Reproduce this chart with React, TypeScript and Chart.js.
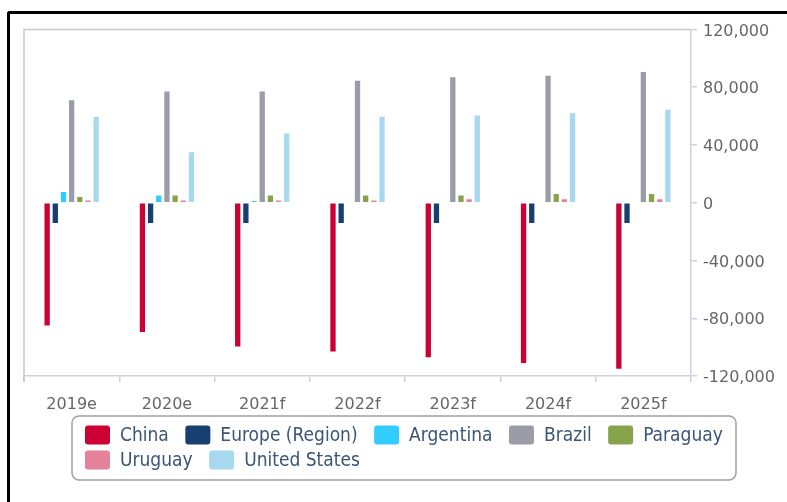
import React, { useEffect, useRef } from "react";
import { Chart, registerables } from "chart.js";

Chart.register(...registerables);

// ---- data ----
const categories = ["2019e", "2020e", "2021f", "2022f", "2023f", "2024f", "2025f"];
const seriesNames = ["China", "Europe (Region)", "Argentina", "Brazil", "Paraguay", "Uruguay", "United States"];
const china = [-85000, -89500, -99500, -103000, -107000, -111000, -115000];
const europe = [-14000, -14000, -14000, -14000, -14000, -14000, -14000];
const argentina = [7500, 5000, 1200, 0, 0, 0, 0];
const brazil = [71000, 77000, 77000, 84500, 87000, 88000, 90500];
const paraguay = [4000, 5000, 5000, 5000, 5000, 6000, 6000];
const uruguay = [1500, 1500, 1500, 1500, 2500, 2500, 2500];
const unitedStates = [59500, 35000, 48000, 59500, 60500, 62000, 64500];
const yMin = -120000;
const yMax = 120000;
const yStep = 40000;

const seriesValues = [china, europe, argentina, brazil, paraguay, uruguay, unitedStates];
const seriesColors = ["#CC0033", "#173F72", "#33CCFF", "#9A9CA7", "#87A44A", "#E5829B", "#A6D9EF"];

const AXIS_COLOR = "#C6D4E4";
const TICK_COLOR = "#666666";
const LEGEND_TEXT = "#3B5577";

const decorPlugin = {
  id: "decor",
  beforeDatasetsDraw(chart: any) {
    const { ctx, chartArea } = chart;
    ctx.save();
    ctx.strokeStyle = "#C8C8C8";
    ctx.lineWidth = 1.5;
    ctx.beginPath();
    ctx.moveTo(chartArea.left, chartArea.bottom + 6);
    ctx.lineTo(chartArea.left, chartArea.top);
    ctx.lineTo(chartArea.right, chartArea.top);
    ctx.stroke();
    ctx.restore();
  },
  afterDraw(chart: any) {
    const { ctx } = chart;
    const box = { x: 72, y: 416, w: 664, h: 64, r: 7 };
    ctx.save();
    ctx.strokeStyle = "#A0A0A0";
    ctx.lineWidth = 1.5;
    ctx.beginPath();
    ctx.roundRect(box.x, box.y, box.w, box.h, box.r);
    ctx.stroke();

    const font = '19px "DejaVu Sans Condensed", "DejaVu Sans"';
    ctx.font = font;
    ctx.textBaseline = "middle";
    ctx.textAlign = "left";
    const sw = 25;
    const sh = 19;
    const gapText = 10;
    const gapItem = 16.5;
    const startX = 85;
    const rowY = [435, 460];
    let x = startX;
    let row = 0;
    chart.data.datasets.forEach((ds: any) => {
      const tw = ctx.measureText(ds.label).width;
      const iw = sw + gapText + tw;
      if (x > startX && x + iw > box.x + box.w - 8) {
        row++;
        x = startX;
      }
      const cy = rowY[row] ?? rowY[0] + row * 25;
      ctx.fillStyle = ds.backgroundColor;
      ctx.beginPath();
      ctx.roundRect(x, cy - sh / 2, sw, sh, 3);
      ctx.fill();
      ctx.fillStyle = LEGEND_TEXT;
      ctx.fillText(ds.label, x + sw + gapText, cy + 1);
      x += iw + gapItem;
    });
    ctx.restore();
  },
};

export default function App() {
  const canvasRef = useRef<HTMLCanvasElement | null>(null);

  useEffect(() => {
    if (!canvasRef.current) return;
    Chart.defaults.font.family = '"DejaVu Sans"';
    const chart = new Chart(canvasRef.current, {
      type: "bar",
      data: {
        labels: categories,
        datasets: seriesNames.map((name, i) => ({
          label: name,
          data: seriesValues[i],
          backgroundColor: seriesColors[i],
          borderWidth: 0,
          categoryPercentage: 0.6,
          barPercentage: 0.65,
        })),
      },
      options: {
        animation: false,
        responsive: false,
        devicePixelRatio: 1,
        layout: { padding: { left: 24, top: 29.5, right: 0, bottom: 0 } },
        plugins: {
          legend: { display: false },
          tooltip: { enabled: false },
        },
        scales: {
          x: {
            grid: {
              drawOnChartArea: false,
              drawTicks: true,
              tickLength: 6,
              color: AXIS_COLOR,
              lineWidth: 1.5,
            },
            border: { color: AXIS_COLOR, width: 1.5 },
            ticks: { color: TICK_COLOR, font: { size: 16 }, padding: 13, maxRotation: 0 },
            afterFit: (scale: any) => {
              scale.height = 126;
            },
          },
          y: {
            position: "right",
            min: yMin,
            max: yMax,
            grid: {
              drawOnChartArea: false,
              drawTicks: true,
              tickLength: 6,
              color: AXIS_COLOR,
              lineWidth: 1.5,
            },
            border: { color: AXIS_COLOR, width: 1.5 },
            ticks: {
              stepSize: yStep,
              color: TICK_COLOR,
              font: { size: 16 },
              padding: 6,
              labelOffset: 2,
              callback: (v: any) => Number(v).toLocaleString("en-US"),
            },
            afterFit: (scale: any) => {
              scale.width = 96;
            },
          },
        },
      },
      plugins: [decorPlugin],
    });
    return () => chart.destroy();
  }, []);

  return (
    <>
      <div
        style={{
          position: "absolute",
          left: 7,
          top: 11,
          width: 777,
          height: 488,
          borderLeft: "3px solid #000",
          borderTop: "3px solid #000",
          borderTopLeftRadius: 3,
        }}
      />
      <div style={{ position: "absolute", left: 0, top: 0, width: 787, height: 502 }}>
        <canvas ref={canvasRef} width={787} height={502} />
      </div>
    </>
  );
}
